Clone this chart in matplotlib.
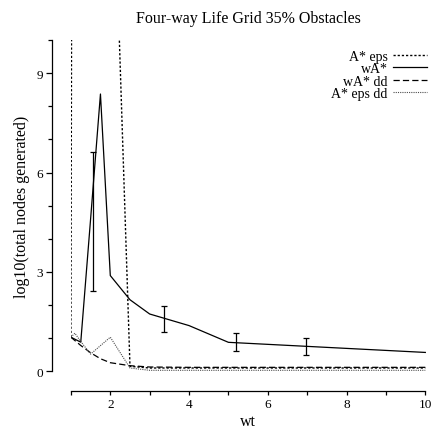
import numpy as np
import matplotlib
matplotlib.use("Agg")
import matplotlib.pyplot as plt

plt.rcParams['font.family'] = ['Liberation Serif', 'DejaVu Serif']

# weight values and log10 node counts
wt_eps = [1, 1.25, 1.5, 1.75, 2, 2.5, 3, 4, 5, 6, 7, 8, 9, 10]
astar_eps = [1.03, 150, 150, 60, 18.4, 0.15, 0.1, 0.1, 0.1, 0.1, 0.1, 0.1, 0.1, 0.1]

wt_wa = [1, 1.25, 1.5, 1.75, 2, 2.5, 3, 4, 5, 10]
wastar = [1.03, 0.88, 4.6, 8.37, 2.89, 2.16, 1.73, 1.38, 0.875, 0.57]

wt_err = [1.57, 3.36, 5.19, 6.98]
err_mid = [4.52, 1.59, 0.875, 0.745]
err_half = [2.11, 0.39, 0.27, 0.25]

wt_dd = [1, 1.25, 1.5, 1.75, 2, 2.5, 3, 4, 5, 6, 7, 8, 9, 10]
wastar_dd = [1.03, 0.78, 0.56, 0.38, 0.26, 0.17, 0.13, 0.12, 0.12, 0.12, 0.12, 0.12, 0.12, 0.12]

wt_epsdd = [1, 1.1, 1.25, 1.5, 2, 2.5, 3, 4, 5, 6, 7, 8, 9, 10]
astar_eps_dd = [1.03, 1.15, 0.9, 0.52, 1.03, 0.1, 0.03, 0.03, 0.03, 0.03, 0.03, 0.03, 0.03, 0.03]

fig = plt.figure(figsize=(4.32, 4.35), dpi=100)
ax = fig.add_axes([0.1637, 0.1441, 0.8213, 0.7616])

ax.plot(wt_eps, astar_eps, color='black', lw=1.0, linestyle=(0, (1.6, 1.4)), label='A* eps')
ax.plot(wt_wa, wastar, color='black', lw=0.9, label='wA*')
ax.plot(wt_dd, wastar_dd, color='black', lw=0.9, linestyle=(0, (5, 2.5)), label='wA* dd')
ax.plot(wt_epsdd, astar_eps_dd, color='0.3', lw=0.8, linestyle=(0, (1, 1)), label='A* eps dd')
ax.errorbar(wt_err, err_mid, yerr=err_half, fmt='none', ecolor='black',
            elinewidth=0.9, capsize=2.5, capthick=0.9)

ax.set_xlim(0.995, 10.005)
ax.set_ylim(0, 10)

for s in ['top', 'right']:
    ax.spines[s].set_visible(False)
ax.spines['left'].set_position(('outward', 13.7))
ax.spines['bottom'].set_position(('outward', 14))
ax.spines['left'].set_bounds(0, 10)
ax.spines['bottom'].set_bounds(1, 10)
ax.spines['left'].set_linewidth(0.9)
ax.spines['bottom'].set_linewidth(0.9)

ax.set_xticks(range(1, 11))
ax.set_xticklabels(['' if v % 2 else str(v) for v in range(1, 11)])
ax.set_yticks([0, 3, 6, 9])
ax.set_yticks([1, 2, 4, 5, 7, 8, 10], minor=True)
ax.tick_params(axis='x', length=3, width=0.9, pad=2.5, labelsize=9.5)
ax.tick_params(axis='y', which='major', length=4, width=0.9, pad=2, labelsize=9.5)
ax.tick_params(axis='y', which='minor', length=3, width=0.9)

ax.set_xlabel('wt', fontsize=11.5, labelpad=2)
ax.set_ylabel('log10(total nodes generated)', fontsize=11.5, labelpad=5)
ax.set_title('Four-way Life Grid 35% Obstacles', fontsize=11.5, pad=13)

ax.legend(loc='upper right', bbox_to_anchor=(1.003, 0.97), frameon=False,
          markerfirst=False, fontsize=10, handlelength=2.4, handletextpad=0.4,
          labelspacing=-0.05, borderpad=0, borderaxespad=0)

fig.savefig('out.png', dpi=100)
